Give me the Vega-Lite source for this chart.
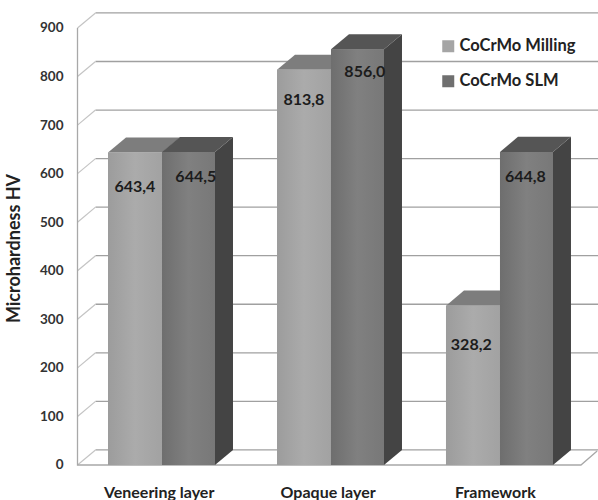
{
"$schema":"https://vega.github.io/schema/vega-lite/v6.json",
"autosize":"none",
"padding":{"left":70,"top":0,"right":0,"bottom":20},
"width":528,"height":480,
"background":"white",
"config":{"view":{"stroke":null}},
"datasets":{
"bars":[
{"category":"Veneering layer","series":"CoCrMo Milling","hardness":643.4,"x0":0.6805,"x1":1},
{"category":"Veneering layer","series":"CoCrMo SLM","hardness":644.5,"x0":1,"x1":1.3136},
{"category":"Opaque layer","series":"CoCrMo Milling","hardness":813.8,"x0":1.6805,"x1":2},
{"category":"Opaque layer","series":"CoCrMo SLM","hardness":856.0,"x0":2,"x1":2.3136},
{"category":"Framework","series":"CoCrMo Milling","hardness":328.2,"x0":2.6805,"x1":3},
{"category":"Framework","series":"CoCrMo SLM","hardness":644.8,"x0":3,"x1":3.3136}
],
"labels":[
{"text":"643,4","x":0.84,"y":572},
{"text":"644,5","x":1.2,"y":593},
{"text":"813,8","x":1.84,"y":752},
{"text":"856,0","x":2.2,"y":809},
{"text":"328,2","x":2.83,"y":247},
{"text":"644,8","x":3.15,"y":593}
],
"sides":[
{"id":"V","x":1.3136,"y":644.5,"y2":0},{"id":"V","x":1.4201,"y":675.5,"y2":31},
{"id":"O","x":2.3136,"y":856,"y2":0},{"id":"O","x":2.4201,"y":887,"y2":31},
{"id":"F","x":3.3136,"y":644.8,"y2":0},{"id":"F","x":3.4201,"y":675.8,"y2":31}
],
"tops":[
{"id":"VM","series":"CoCrMo Milling","y":643.4,"x":0.6805,"x2":1},{"id":"VM","series":"CoCrMo Milling","y":674.4,"x":0.787,"x2":1.1065},
{"id":"OM","series":"CoCrMo Milling","y":813.8,"x":1.6805,"x2":2},{"id":"OM","series":"CoCrMo Milling","y":844.8,"x":1.787,"x2":2.1065},
{"id":"FM","series":"CoCrMo Milling","y":328.2,"x":2.6805,"x2":3},{"id":"FM","series":"CoCrMo Milling","y":359.2,"x":2.787,"x2":3.1065},
{"id":"VS","series":"CoCrMo SLM","y":644.5,"x":1,"x2":1.3136},{"id":"VS","series":"CoCrMo SLM","y":675.5,"x":1.1065,"x2":1.4201},
{"id":"OS","series":"CoCrMo SLM","y":856,"x":2,"x2":2.3136},{"id":"OS","series":"CoCrMo SLM","y":887,"x":2.1065,"x2":2.4201},
{"id":"FS","series":"CoCrMo SLM","y":644.8,"x":3,"x2":3.3136},{"id":"FS","series":"CoCrMo SLM","y":675.8,"x":3.1065,"x2":3.4201}
],
"wall":[
{"tick":0,"o":0,"x":0.5,"y":0},{"tick":0,"o":1,"x":0.6065,"y":31},{"tick":0,"o":2,"x":3.58,"y":31},
{"tick":100,"o":0,"x":0.5,"y":100},{"tick":100,"o":1,"x":0.6065,"y":131},{"tick":100,"o":2,"x":3.58,"y":131},
{"tick":200,"o":0,"x":0.5,"y":200},{"tick":200,"o":1,"x":0.6065,"y":231},{"tick":200,"o":2,"x":3.58,"y":231},
{"tick":300,"o":0,"x":0.5,"y":300},{"tick":300,"o":1,"x":0.6065,"y":331},{"tick":300,"o":2,"x":3.58,"y":331},
{"tick":400,"o":0,"x":0.5,"y":400},{"tick":400,"o":1,"x":0.6065,"y":431},{"tick":400,"o":2,"x":3.58,"y":431},
{"tick":500,"o":0,"x":0.5,"y":500},{"tick":500,"o":1,"x":0.6065,"y":531},{"tick":500,"o":2,"x":3.58,"y":531},
{"tick":600,"o":0,"x":0.5,"y":600},{"tick":600,"o":1,"x":0.6065,"y":631},{"tick":600,"o":2,"x":3.58,"y":631},
{"tick":700,"o":0,"x":0.5,"y":700},{"tick":700,"o":1,"x":0.6065,"y":731},{"tick":700,"o":2,"x":3.58,"y":731},
{"tick":800,"o":0,"x":0.5,"y":800},{"tick":800,"o":1,"x":0.6065,"y":831},{"tick":800,"o":2,"x":3.58,"y":831},
{"tick":900,"o":0,"x":0.5,"y":900},{"tick":900,"o":1,"x":0.6065,"y":931},{"tick":900,"o":2,"x":3.58,"y":931}
],
"frame":[
{"id":"left","o":0,"x":0.5,"y":900},{"id":"left","o":1,"x":0.5,"y":0},{"id":"left","o":2,"x":3.479,"y":0},{"id":"left","o":3,"x":3.575,"y":29}
]
},
"layer":[
{"data":{"name":"wall"},"transform":[{"filter":"datum.o>=1"}],"mark":{"type":"line","stroke":"#a0a0a0","strokeWidth":1.3,"clip":true,"interpolate":"linear"},
 "encoding":{"x":{"field":"x","type":"quantitative","scale":{"domain":[0.4556,3.58],"nice":false,"zero":false},
   "axis":{"values":[0.98,1.98,2.97],"labelExpr":"datum.value<1.5?'Veneering layer':datum.value<2.5?'Opaque layer':'Framework'","title":null,"domain":false,"ticks":false,"grid":false,"labelFont":"Lato","labelFontWeight":"bold","labelFontSize":16,"labelColor":"#222","labelPadding":12,"labelBaseline":"middle","labelOverlap":false}},
  "y":{"field":"y","type":"quantitative","scale":{"domain":[-30.9,957.6],"nice":false,"zero":false},
   "axis":{"values":[0,100,200,300,400,500,600,700,800,900],"title":"Microhardness HV","titleFont":"Lato","titleFontWeight":"bold","titleFontSize":18,"titleColor":"#222","titleX":-47,"titleY":248,"domain":false,"ticks":false,"grid":false,"labelFont":"Lato","labelFontWeight":"bold","labelFontSize":13.5,"labelColor":"#333","labelPadding":7}},
  "detail":{"field":"tick","type":"nominal"},"order":{"field":"o","type":"ordinal"}}},
{"data":{"name":"wall"},"transform":[{"filter":"datum.o<=1"}],"mark":{"type":"line","stroke":"#c4c4c4","strokeWidth":1.2,"clip":true},
 "encoding":{"x":{"field":"x","type":"quantitative"},"y":{"field":"y","type":"quantitative"},"detail":{"field":"tick","type":"nominal"},"order":{"field":"o","type":"ordinal"}}},
{"data":{"name":"frame"},"mark":{"type":"line","stroke":"#a8a8a8","strokeWidth":1.3,"clip":true},
 "encoding":{"x":{"field":"x","type":"quantitative"},"y":{"field":"y","type":"quantitative"},"order":{"field":"o","type":"ordinal"}}},
{"data":{"name":"tops"},"transform":[{"filter":"datum.series==='CoCrMo Milling'"}],"mark":{"type":"area","orient":"horizontal","fill":"#7d7d7d"},
 "encoding":{"y":{"field":"y","type":"quantitative"},"x":{"field":"x","type":"quantitative"},"x2":{"field":"x2"},"detail":{"field":"id","type":"nominal"}}},
{"data":{"name":"sides"},"mark":{"type":"area","fill":"#444444"},
 "encoding":{"x":{"field":"x","type":"quantitative"},"y":{"field":"y","type":"quantitative"},"y2":{"field":"y2"},"detail":{"field":"id","type":"nominal"}}},
{"data":{"name":"tops"},"transform":[{"filter":"datum.series==='CoCrMo SLM'"}],"mark":{"type":"area","orient":"horizontal","fill":"#555555"},
 "encoding":{"y":{"field":"y","type":"quantitative"},"x":{"field":"x","type":"quantitative"},"x2":{"field":"x2"},"detail":{"field":"id","type":"nominal"}}},
{"data":{"name":"bars"},"mark":{"type":"rect"},
 "encoding":{"x":{"field":"x0","type":"quantitative"},"x2":{"field":"x1"},"y":{"field":"hardness","type":"quantitative"},"y2":{"datum":0},
  "color":{"field":"series","type":"nominal","scale":{"domain":["CoCrMo Milling","CoCrMo SLM"],"range":["#a5a5a5","#6f6f6f"]},
  "legend":{"orient":"none","legendX":370,"legendY":38,"title":null,"symbolType":"square","symbolSize":144,"symbolStrokeWidth":0,"labelFont":"Lato","labelFontWeight":"bold","labelFontSize":16.5,"labelColor":"#222","rowPadding":18,"labelLimit":200,"labelOffset":3}}}},
{"data":{"name":"bars"},"transform":[{"filter":"datum.series==='CoCrMo Milling'"}],
 "mark":{"type":"rect","fill":{"gradient":"linear","x1":0,"y1":0,"x2":1,"y2":0,"stops":[{"offset":0,"color":"#9c9c9c"},{"offset":0.5,"color":"#ababab"},{"offset":1,"color":"#a2a2a2"}]}},
 "encoding":{"x":{"field":"x0","type":"quantitative"},"x2":{"field":"x1"},"y":{"field":"hardness","type":"quantitative"},"y2":{"datum":0}}},
{"data":{"name":"bars"},"transform":[{"filter":"datum.series==='CoCrMo SLM'"}],
 "mark":{"type":"rect","fill":{"gradient":"linear","x1":0,"y1":0,"x2":1,"y2":0,"stops":[{"offset":0,"color":"#6e6e6e"},{"offset":0.5,"color":"#808080"},{"offset":1,"color":"#787878"}]}},
 "encoding":{"x":{"field":"x0","type":"quantitative"},"x2":{"field":"x1"},"y":{"field":"hardness","type":"quantitative"},"y2":{"datum":0}}},
{"data":{"name":"labels"},"mark":{"type":"text","font":"Lato","fontWeight":"bold","fontSize":16,"color":"#1c1c1c"},
 "encoding":{"x":{"field":"x","type":"quantitative"},"y":{"field":"y","type":"quantitative"},"text":{"field":"text","type":"nominal"}}}
]
}
